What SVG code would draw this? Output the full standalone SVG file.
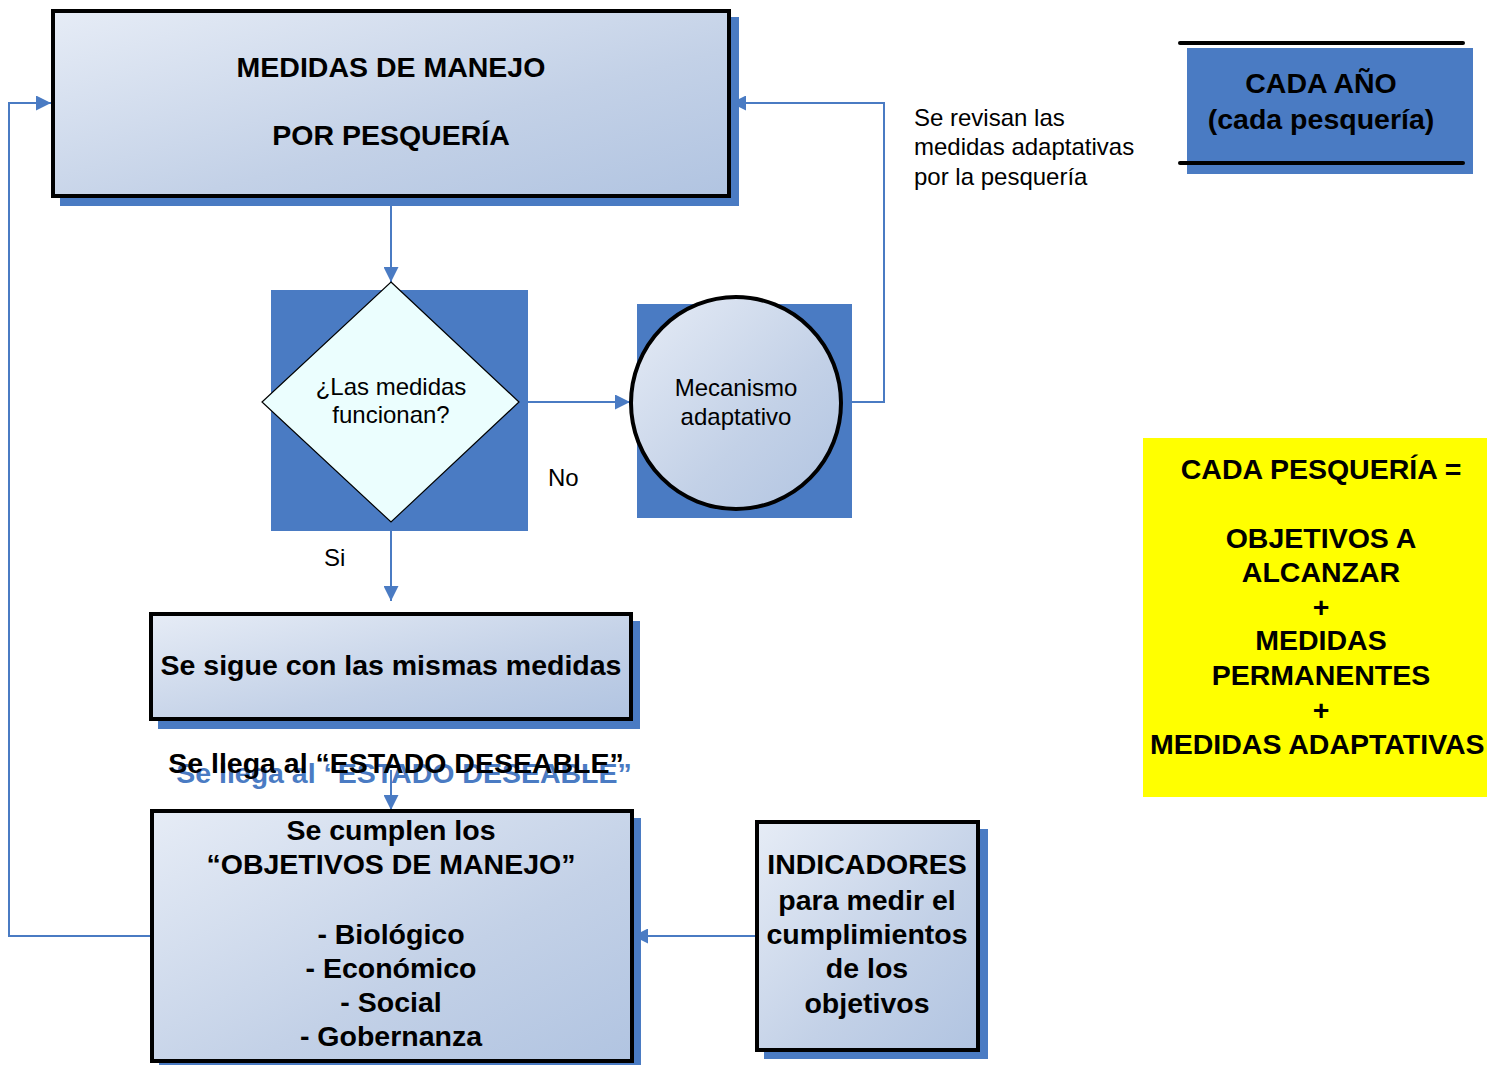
<svg xmlns="http://www.w3.org/2000/svg" width="1487" height="1065" viewBox="0 0 1487 1065">
<defs>
<linearGradient id="g" x1="0" y1="0" x2="1" y2="1">
<stop offset="0" stop-color="#e6ecf6"/>
<stop offset="0.6" stop-color="#c3d1e7"/>
<stop offset="1" stop-color="#b1c4e1"/>
</linearGradient>
<marker id="a" viewBox="0 0 10 10" refX="10" refY="5" markerWidth="15" markerHeight="15" markerUnits="userSpaceOnUse" orient="auto">
<path d="M0,0 L10,5 L0,10 z" fill="#4a7bc3"/>
</marker>
</defs>
<style>
.sh{fill:#4a7bc3}
.bx{fill:url(#g);stroke:#000;stroke-width:4}
.c{fill:none;stroke:#4a7bc3;stroke-width:2}
.b{font-family:"Liberation Sans",Arial,sans-serif;font-weight:bold;font-size:28.5px;fill:#000;text-anchor:middle}
.r{font-family:"Liberation Sans",Arial,sans-serif;font-size:24px;fill:#000}
.m{text-anchor:middle}
</style>

<g id="connectors">
<path class="c" d="M391,178 V282" marker-end="url(#a)"/>
<path class="c" d="M528,402 H630" marker-end="url(#a)"/>
<path class="c" d="M842,402 H884 V103 H731" marker-end="url(#a)"/>
<path class="c" d="M391,531 V601" marker-end="url(#a)"/>
<path class="c" d="M391,830 V810"/>
<path class="c" d="M391,770 V810" marker-end="url(#a)"/>
<path class="c" d="M757,936 H633" marker-end="url(#a)"/>
<path class="c" d="M152,936 H9 V103 H51" marker-end="url(#a)"/>
</g>

<g id="medidas-manejo">
<rect class="sh" x="60" y="17" width="679" height="189"/>
<rect class="bx" x="53" y="11" width="676" height="185"/>
<text class="b" x="391" y="77">MEDIDAS DE MANEJO</text>
<text class="b" x="391" y="145">POR PESQUERÍA</text>
</g>

<g id="decision">
<rect class="sh" x="271" y="290" width="257" height="241"/>
<polygon points="391,282 519,402 391,522 262,402" fill="#ebfefe" stroke="#000" stroke-width="1.2"/>
<text class="r m" x="391" y="395">¿Las medidas</text>
<text class="r m" x="391" y="423">funcionan?</text>
</g>

<g id="mecanismo">
<rect class="sh" x="637" y="304" width="215" height="214"/>
<ellipse cx="736" cy="403" rx="105" ry="106" fill="url(#g)" stroke="#000" stroke-width="4"/>
<text class="r m" x="736" y="396">Mecanismo</text>
<text class="r m" x="736" y="425">adaptativo</text>
</g>

<g id="labels">
<text class="r" x="548" y="486">No</text>
<text class="r" x="324" y="566">Si</text>
<text class="r" x="914" y="126">Se revisan las</text>
<text class="r" x="914" y="155">medidas adaptativas</text>
<text class="r" x="914" y="185">por la pesquería</text>
</g>

<g id="mismas-medidas">
<rect class="sh" x="158" y="621" width="482" height="108"/>
<rect class="bx" x="151" y="614" width="480" height="105"/>
<text class="b" x="391" y="675">Se sigue con las mismas medidas</text>
</g>

<g id="estado-deseable">
<text class="b" x="404" y="783" style="fill:#4a7bc3">Se llega al “ESTADO DESEABLE”</text>
<text class="b" x="396" y="773">Se llega al “ESTADO DESEABLE”</text>
</g>

<g id="objetivos">
<rect class="sh" x="159" y="818" width="482" height="247"/>
<rect class="bx" x="152" y="811" width="480" height="250"/>
<text class="b" x="391" y="840">Se cumplen los</text>
<text class="b" x="391" y="874">“OBJETIVOS DE MANEJO”</text>
<text class="b" x="391" y="944">- Biológico</text>
<text class="b" x="391" y="978">- Económico</text>
<text class="b" x="391" y="1012">- Social</text>
<text class="b" x="391" y="1046">- Gobernanza</text>
</g>

<g id="indicadores">
<rect class="sh" x="764" y="829" width="224" height="230"/>
<rect class="bx" x="757" y="822" width="221" height="228"/>
<text class="b" x="867" y="874">INDICADORES</text>
<text class="b" x="867" y="910">para medir el</text>
<text class="b" x="867" y="944">cumplimientos</text>
<text class="b" x="867" y="978">de los</text>
<text class="b" x="867" y="1013">objetivos</text>
</g>

<g id="cada-anio">
<rect class="sh" x="1187" y="48" width="286" height="126"/>
<line x1="1180" y1="43" x2="1463" y2="43" stroke="#000" stroke-width="4" stroke-linecap="round"/>
<line x1="1180" y1="163" x2="1463" y2="163" stroke="#000" stroke-width="4" stroke-linecap="round"/>
<text class="b" x="1321" y="93">CADA AÑO</text>
<text class="b" x="1321" y="129">(cada pesquería)</text>
</g>

<g id="cada-pesqueria">
<rect x="1143" y="438" width="344" height="359" fill="#ffff00"/>
<text class="b" x="1321" y="479">CADA PESQUERÍA =</text>
<text class="b" x="1321" y="548">OBJETIVOS A</text>
<text class="b" x="1321" y="582">ALCANZAR</text>
<text class="b" x="1321" y="617">+</text>
<text class="b" x="1321" y="650">MEDIDAS</text>
<text class="b" x="1321" y="685">PERMANENTES</text>
<text class="b" x="1321" y="720">+</text>
<text class="b" x="1150" y="754" style="text-anchor:start">MEDIDAS ADAPTATIVAS</text>
</g>
</svg>
